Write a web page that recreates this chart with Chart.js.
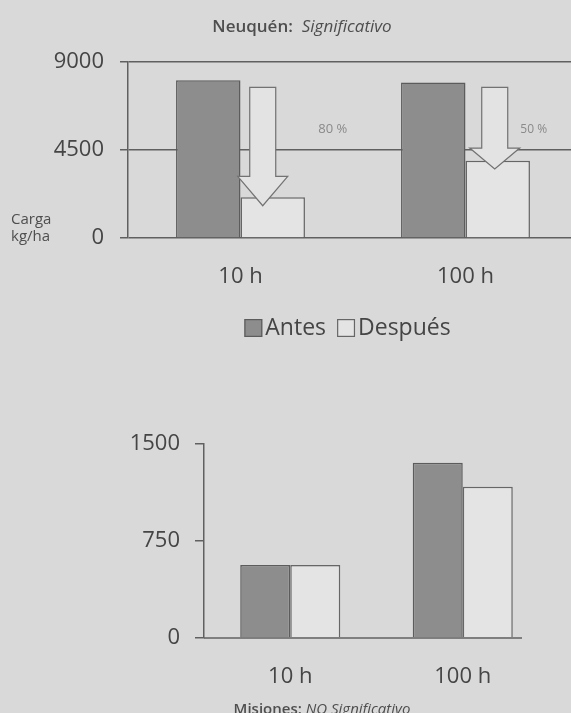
<!DOCTYPE html>
<html>
<head>
<meta charset="utf-8">
<script src="https://cdn.jsdelivr.net/npm/chart.js@4.4.1/dist/chart.umd.min.js"></script>
<style>
  html, body { margin: 0; padding: 0; overflow: hidden; background: #d9d9d9; width: 571px; height: 713px; }
  #neuquen { position: absolute; left: 0; top: 0; }
  #misiones { position: absolute; left: 0; top: 400px; }
</style>
</head>
<body>
<canvas id="neuquen" width="578" height="360"></canvas>
<canvas id="misiones" width="571" height="313"></canvas>
<script>
// Carga (kg/ha) antes y después, por horas de tratamiento
const hours = ['10 h', '100 h'];
const seriesNames = ['Antes', 'Después'];

const neuquenAntes = [8070, 7950];
const neuquenDespues = [2090, 3950];
const neuquenTicks = [0, 4500, 9000];
const neuquenReduction = ['80 %', '50 %'];
// arrows: start value, value where the head begins, tip value
const arrowStart = [7700, 7700];
const arrowHeadBase = [3150, 4600];
const arrowEnd = [1650, 3530];

const misionesAntes = [565, 1355];
const misionesDespues = [565, 1170];
const misionesTicks = [0, 750, 1500];

const FONT = "'Open Sans', 'Noto Sans', sans-serif";
const TXT = '#454545';
const GRID = '#606060';
const ANTES_FILL = '#8d8d8d';
const ANTES_LINE = '#5c5c5c';
const DESP_FILL = '#e4e4e4';
const DESP_LINE = '#666666';

function barDatasets(a, d) {
  return [
    { label: seriesNames[0], data: a, backgroundColor: ANTES_FILL, borderColor: ANTES_LINE, borderWidth: 1.5 },
    { label: seriesNames[1], data: d, backgroundColor: DESP_FILL, borderColor: DESP_LINE, borderWidth: 1.5 }
  ];
}

const plainTick = v => String(v);

function drawMixedTitle(ctx, parts, cx, y, size) {
  ctx.save();
  ctx.textBaseline = 'alphabetic';
  ctx.fillStyle = '#4e4e4e';
  const widths = parts.map(p => { ctx.font = p.style + ' ' + size + 'px ' + FONT; return ctx.measureText(p.text).width; });
  let x = cx - widths.reduce((s, w) => s + w, 0) / 2;
  parts.forEach((p, i) => {
    ctx.font = p.style + ' ' + size + 'px ' + FONT;
    ctx.textAlign = 'left';
    ctx.fillText(p.text, x, y);
    x += widths[i];
  });
  ctx.restore();
}

const neuquenDecor = {
  id: 'neuquenDecor',
  afterDatasetsDraw(chart) {
    const ctx = chart.ctx;
    const ys = chart.scales.y;
    const meta = chart.getDatasetMeta(1);
    const dx = [-10, -3];
    const labelDx = [70, 39];
    const shaft = 26, head = 50;
    ctx.save();
    meta.data.forEach((bar, i) => {
      const cx = bar.x + dx[i];
      const yTop = ys.getPixelForValue(arrowStart[i]);
      const yBase = ys.getPixelForValue(arrowHeadBase[i]);
      const yTip = ys.getPixelForValue(arrowEnd[i]);
      ctx.beginPath();
      ctx.moveTo(cx - shaft / 2, yTop);
      ctx.lineTo(cx + shaft / 2, yTop);
      ctx.lineTo(cx + shaft / 2, yBase);
      ctx.lineTo(cx + head / 2, yBase);
      ctx.lineTo(cx, yTip);
      ctx.lineTo(cx - head / 2, yBase);
      ctx.lineTo(cx - shaft / 2, yBase);
      ctx.closePath();
      ctx.fillStyle = '#e3e3e3';
      ctx.fill();
      ctx.strokeStyle = '#727272';
      ctx.lineWidth = 1.2;
      ctx.stroke();

      ctx.fillStyle = '#8a8a8a';
      ctx.font = (i === 0 ? 13 : 12) + 'px ' + FONT;
      ctx.textAlign = 'center';
      ctx.textBaseline = 'middle';
      ctx.fillText(neuquenReduction[i], cx + labelDx[i], ys.getPixelForValue(5550));
    });
    ctx.restore();
  },
  afterDraw(chart) {
    const ctx = chart.ctx;
    drawMixedTitle(ctx, [{ text: 'Neuquén:  ', style: '600' }, { text: 'Significativo', style: 'italic' }], 302, 32, 17);

    // axis caption
    ctx.save();
    ctx.fillStyle = '#4e4e4e';
    ctx.font = '15px ' + FONT;
    ctx.textAlign = 'left';
    ctx.textBaseline = 'middle';
    ctx.fillText('Carga', 11, 220);
    ctx.fillText('kg/ha', 11, 237);

    // legend
    const box = 18, gap = 3, between = 11;
    ctx.font = '23px ' + FONT;
    const items = chart.data.datasets.map(ds => ({ ds, w: ctx.measureText(ds.label).width }));
    const total = items.reduce((s, it) => s + box + gap + it.w, 0) + between * (items.length - 1);
    let x = 347.5 - total / 2;
    const cy = 328;
    items.forEach(it => {
      ctx.fillStyle = it.ds.backgroundColor;
      ctx.fillRect(x, cy - box / 2, box, box);
      ctx.strokeStyle = it.ds.borderColor;
      ctx.lineWidth = 1.2;
      ctx.strokeRect(x + 0.6, cy - box / 2 + 0.6, box - 1.2, box - 1.2);
      x += box + gap;
      ctx.fillStyle = TXT;
      ctx.fillText(it.ds.label, x, cy);
      x += it.w + between;
    });
    ctx.restore();
  }
};

new Chart(document.getElementById('neuquen'), {
  type: 'bar',
  data: { labels: hours, datasets: barDatasets(neuquenAntes, neuquenDespues) },
  options: {
    responsive: false,
    animation: false,
    datasets: { bar: { categoryPercentage: 0.573, barPercentage: 1 } },
    layout: { padding: { top: 62, right: 0, bottom: 62, left: 0 } },
    plugins: { legend: { display: false }, tooltip: { enabled: false }, title: { display: false } },
    scales: {
      x: {
        grid: { display: false, drawTicks: false },
        border: { display: false },
        ticks: { padding: 25.5, font: { family: FONT, size: 22 }, color: TXT },
        afterFit: s => { s.height = 60; }
      },
      y: {
        min: 0, max: 9000,
        afterBuildTicks: s => { s.ticks = neuquenTicks.map(v => ({ value: v })); },
        afterFit: s => { s.width = 128; },
        grid: { color: GRID, lineWidth: 1.5, tickLength: 8 },
        border: { display: true, color: GRID, width: 1.5 },
        ticks: { padding: 16, font: { family: FONT, size: 22 }, color: TXT, callback: plainTick }
      }
    }
  },
  plugins: [neuquenDecor]
});

const misionesDecor = {
  id: 'misionesDecor',
  afterDatasetsDraw(chart) {
    const ctx = chart.ctx;
    const y0 = chart.scales.y.getPixelForValue(0);
    ctx.save();
    ctx.strokeStyle = GRID;
    ctx.lineWidth = 1.5;
    ctx.beginPath();
    ctx.moveTo(chart.chartArea.left, y0);
    ctx.lineTo(chart.chartArea.right - 27, y0);
    ctx.stroke();
    ctx.restore();
  },
  afterDraw(chart) {
    drawMixedTitle(chart.ctx, [{ text: 'Misiones: ', style: '600' }, { text: 'NO Significativo', style: 'italic' }], 322, 314, 15);
  }
};

new Chart(document.getElementById('misiones'), {
  type: 'bar',
  data: { labels: hours, datasets: barDatasets(misionesAntes, misionesDespues) },
  options: {
    responsive: false,
    animation: false,
    datasets: { bar: { categoryPercentage: 0.58, barPercentage: 1 } },
    layout: { padding: { top: 44, right: 22, bottom: 15, left: 0 } },
    plugins: { legend: { display: false }, tooltip: { enabled: false }, title: { display: false } },
    scales: {
      x: {
        grid: { display: false, drawTicks: false },
        border: { display: false },
        ticks: { padding: 25.5, font: { family: FONT, size: 22 }, color: TXT },
        afterFit: s => { s.height = 60; }
      },
      y: {
        min: 0, max: 1500,
        afterBuildTicks: s => { s.ticks = misionesTicks.map(v => ({ value: v })); },
        afterFit: s => { s.width = 204; },
        grid: { color: GRID, lineWidth: 1.5, tickLength: 9, drawOnChartArea: false },
        border: { display: true, color: GRID, width: 1.5 },
        ticks: { padding: 15, font: { family: FONT, size: 22 }, color: TXT, callback: plainTick }
      }
    }
  },
  plugins: [misionesDecor]
});
</script>
</body>
</html>
